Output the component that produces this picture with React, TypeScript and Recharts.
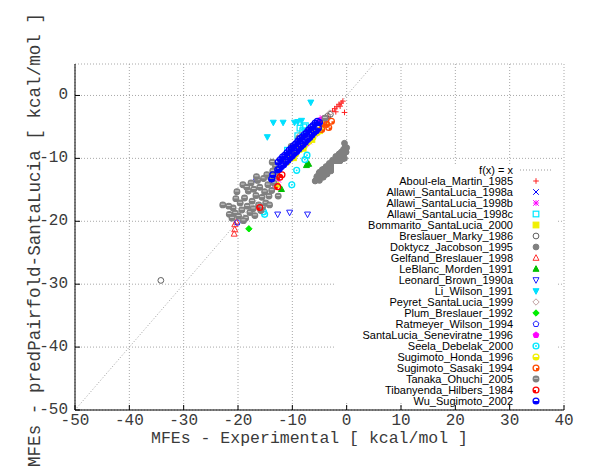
import {
  CartesianGrid,
  Legend,
  ReferenceLine,
  Scatter,
  ScatterChart,
  XAxis,
  YAxis
} from "recharts";

type Pt = [number, number];

const xTicks = [-50, -40, -30, -20, -10, 0, 10, 20, 30, 40];
const yTicks = [-50, -40, -30, -20, -10, 0];

const aboulEla: Pt[] = [[-4.6, -3.8], [-4.4, -4.5], [-3.4, -3.4], [-2.6, -2.5], [-2.2, -2.1], [-2.0, -2.6], [-1.8, -1.8], [-1.4, -1.4], [-1.2, -1.7], [-1.0, -1.2], [-0.7, -0.9], [-0.4, -2.7]];
const allawiA: Pt[] = [[-6.5, -5.3], [-8.1, -6.7], [-4.3, -3.9], [-10.3, -8.8]];
const allawiB: Pt[] = [[-4.4, -3.6], [-3.8, -4.0], [-5.9, -6.1], [-9.0, -8.3], [-12.6, -13.4], [-13.2, -14.5], [-6.9, -7.3]];
const allawiC: Pt[] = [[-10.9, -8.7], [-8.6, -5.2], [-8.1, -5.6], [-9.0, -6.4], [-7.6, -4.8], [-7.9, -5.0]];
const bommarito: Pt[] = [[-9.8, -9.9], [-8.0, -8.4], [-6.4, -7.0], [-5.0, -5.6]];
const breslauer: Pt[] = [[-34.2, -29.4], [-3.5, -3.3], [-3.0, -3.0]];
const doktycz: Pt[] = [
  [-0.4, -7.6], [-0.3, -8.2], [-0.2, -8.8], [-0.5, -9.3], [-0.9, -9.6], [-0.6, -8.6], [-1.0, -9.0],
  [0.0, -8.3], [-0.1, -9.0], [-0.4, -10.0],
  [-1.3, -9.9], [-1.6, -10.2], [-1.9, -10.0], [-2.2, -10.6], [-2.5, -10.9], [-2.3, -11.3], [-2.8, -11.1],
  [-3.1, -11.5], [-3.4, -11.2], [-3.6, -11.8], [-3.9, -12.0], [-4.2, -11.7], [-4.4, -12.3], [-4.7, -12.5],
  [-5.0, -12.2], [-4.9, -12.9], [-5.3, -13.2], [-5.6, -13.4], [-5.8, -13.6], [-1.2, -10.4], [-0.8, -10.1],
  [-1.8, -10.8], [-2.7, -11.6], [-3.3, -12.0], [-4.0, -12.6], [-5.5, -12.9],
  [-1.4, -9.3], [-2.0, -9.7], [-2.6, -10.3], [-3.2, -10.8], [-3.8, -11.3], [-4.5, -11.8], [-5.1, -12.4],
  [-1.6, -10.9], [-2.2, -11.5], [-2.9, -12.0], [-3.6, -12.5], [-4.3, -13.0], [-5.0, -13.5]
];
const gelfand: Pt[] = [[-20.6, -20.5], [-20.6, -21.3], [-20.7, -22.0], [-20.3, -20.1]];
const leBlanc: Pt[] = [[-7.4, -11.1], [-12.0, -14.9], [-7.0, -10.9]];
const leonard: Pt[] = [[-12.7, -18.9], [-10.5, -18.6], [-7.2, -18.9]];
const liWilson: Pt[] = [[-6.6, -1.1], [-13.5, -4.3], [-11.7, -4.3], [-9.6, -4.3], [-9.0, -4.2], [-8.3, -4.0], [-14.6, -6.6]];
const peyret: Pt[] = [[-3.1, -2.8], [-8.6, -6.3]];
const plum: Pt[] = [[-18.0, -21.2]];
const ratmeyer: Pt[] = [[-16.6, -13.4], [-20.1, -20.2]];
const santaLuciaSen: Pt[] = [[-4.9, -3.9], [-7.3, -7.6]];
const seela: Pt[] = [[-9.2, -11.9], [-10.1, -14.2], [-15.1, -18.9], [-7.7, -10.2], [-7.3, -9.5], [-15.3, -18.5]];
const sugimotoHonda: Pt[] = [
  [-11.0, -10.6], [-10.2, -10.0], [-9.4, -9.3], [-8.6, -8.6], [-7.8, -8.0], [-7.0, -7.3],
  [-6.2, -6.6], [-5.4, -5.9], [-4.6, -5.3], [-3.9, -4.5], [-12.9, -14.2], [-6.6, -5.4]
];
const sugimotoSasaki: Pt[] = [[-2.8, -4.1], [-3.7, -4.6], [-4.6, -5.4], [-3.3, -5.1], [-4.2, -4.4]];
const tanaka: Pt[] = [
  [-22.8, -17.4], [-21.6, -18.9], [-21.1, -19.5], [-20.9, -17.9], [-20.5, -18.7], [-20.2, -15.3],
  [-19.9, -19.2], [-19.6, -17.1], [-19.3, -18.2], [-19.1, -14.2], [-18.8, -16.3], [-18.6, -19.5],
  [-18.3, -17.6], [-18.1, -15.2], [-17.8, -18.6], [-17.6, -13.9], [-17.4, -16.8], [-17.1, -14.9],
  [-16.9, -19.1], [-16.7, -15.9], [-16.4, -13.5], [-16.2, -17.4], [-16.0, -14.6], [-15.8, -18.3],
  [-15.6, -16.2], [-15.3, -13.2], [-15.1, -15.3], [-14.9, -17.1], [-14.7, -12.6], [-14.5, -14.2],
  [-14.3, -16.0], [-14.0, -13.1], [-13.8, -15.1], [-13.6, -12.0], [-13.4, -13.9], [-13.1, -11.2],
  [-13.7, -10.6], [-12.9, -12.8], [-20.4, -16.4], [-19.0, -19.9], [-17.2, -18.0], [-15.5, -17.8],
  [-14.2, -17.4], [-16.6, -12.9], [-18.4, -14.6], [-21.7, -17.6], [-12.6, -16.0],
  [-10.2, -8.1], [-8.8, -6.8], [-7.0, -5.5], [-4.0, -3.6]
];
const tibanyenda: Pt[] = [[-16.0, -17.8], [-12.3, -13.0], [-12.7, -14.5], [-11.9, -12.6]];
const wuSugimoto: Pt[] = [
  [-12.6, -10.6], [-12.4, -11.7], [-12.2, -10.2], [-12.0, -11.3], [-11.8, -9.8], [-11.6, -11.0],
  [-11.4, -9.5], [-11.2, -10.6], [-11.0, -9.1], [-10.8, -10.3], [-10.6, -8.7], [-10.4, -9.9],
  [-10.2, -8.4], [-10.0, -9.6], [-9.8, -8.0], [-9.6, -9.2], [-9.4, -7.7], [-9.2, -8.9],
  [-9.0, -7.3], [-8.8, -8.5], [-8.6, -6.9], [-8.4, -8.1], [-8.2, -6.6], [-8.0, -7.8],
  [-7.8, -6.2], [-7.6, -7.4], [-7.4, -5.9], [-7.2, -7.0], [-7.0, -5.5], [-6.8, -6.7],
  [-6.6, -5.1], [-6.4, -6.3], [-6.2, -4.8], [-6.0, -5.9], [-5.8, -4.4], [-5.6, -5.6],
  [-5.4, -4.1], [-5.2, -5.2], [-5.0, -4.3], [-13.8, -13.3], [-12.7, -11.8], [-13.6, -12.6]
];

type Kind =
  | "plus" | "cross" | "star" | "box" | "boxF" | "circle" | "circleF" | "tri" | "triF"
  | "triDown" | "triDownF" | "diamond" | "diamondF" | "pent" | "pentF"
  | "ringDot" | "ringHalf" | "ringQuarter" | "ringBar" | "ringWedge";

const series: { name: string; data: Pt[]; color: string; kind: Kind }[] = [
  { name: "Aboul-ela_Martin_1985", data: aboulEla, color: "#ff2020", kind: "plus" },
  { name: "Allawi_SantaLucia_1998a", data: allawiA, color: "#0000ff", kind: "cross" },
  { name: "Allawi_SantaLucia_1998b", data: allawiB, color: "#ff00ff", kind: "star" },
  { name: "Allawi_SantaLucia_1998c", data: allawiC, color: "#00e8ff", kind: "box" },
  { name: "Bommarito_SantaLucia_2000", data: bommarito, color: "#f0f000", kind: "boxF" },
  { name: "Breslauer_Marky_1986", data: breslauer, color: "#606060", kind: "circle" },
  { name: "Doktycz_Jacobson_1995", data: doktycz, color: "#808080", kind: "circleF" },
  { name: "Gelfand_Breslauer_1998", data: gelfand, color: "#ff3030", kind: "tri" },
  { name: "LeBlanc_Morden_1991", data: leBlanc, color: "#00c000", kind: "triF" },
  { name: "Leonard_Brown_1990a", data: leonard, color: "#2020ff", kind: "triDown" },
  { name: "Li_Wilson_1991", data: liWilson, color: "#00e0ff", kind: "triDownF" },
  { name: "Peyret_SantaLucia_1999", data: peyret, color: "#c0a0a0", kind: "diamond" },
  { name: "Plum_Breslauer_1992", data: plum, color: "#00ee00", kind: "diamondF" },
  { name: "Ratmeyer_Wilson_1994", data: ratmeyer, color: "#2020ff", kind: "pent" },
  { name: "SantaLucia_Seneviratne_1996", data: santaLuciaSen, color: "#ff00ff", kind: "pentF" },
  { name: "Seela_Debelak_2000", data: seela, color: "#00e8ff", kind: "ringDot" },
  { name: "Sugimoto_Honda_1996", data: sugimotoHonda, color: "#f0f000", kind: "ringHalf" },
  { name: "Sugimoto_Sasaki_1994", data: sugimotoSasaki, color: "#ff4a00", kind: "ringQuarter" },
  { name: "Tanaka_Ohuchi_2005", data: tanaka, color: "#808080", kind: "ringBar" },
  { name: "Tibanyenda_Hilbers_1984", data: tibanyenda, color: "#ff0000", kind: "ringWedge" },
  { name: "Wu_Sugimoto_2002", data: wuSugimoto, color: "#0000ff", kind: "ringHalf" }
];

const toPts = (arr: Pt[]) => arr.map(([x, y]) => ({ x, y }));

function Marker({ kind, color, cx, cy }: { kind: Kind; color: string; cx: number; cy: number }) {
  const s = 2.8;
  const r = 2.9;
  const poly = (pts: number[][]) => pts.map((p) => `${cx + p[0]},${cy + p[1]}`).join(" ");
  switch (kind) {
    case "plus":
      return <path d={`M${cx - s} ${cy}H${cx + s}M${cx} ${cy - s}V${cy + s}`} stroke={color} />;
    case "cross":
      return <path d={`M${cx - s} ${cy - s}L${cx + s} ${cy + s}M${cx - s} ${cy + s}L${cx + s} ${cy - s}`} stroke={color} />;
    case "star":
      return (
        <path
          d={`M${cx - s} ${cy}H${cx + s}M${cx} ${cy - s}V${cy + s}M${cx - s} ${cy - s}L${cx + s} ${cy + s}M${cx - s} ${cy + s}L${cx + s} ${cy - s}`}
          stroke={color}
        />
      );
    case "box":
    case "boxF":
      return (
        <rect x={cx - s} y={cy - s} width={2 * s} height={2 * s} fill={kind === "boxF" ? color : "none"} stroke={color} strokeWidth={1.2} />
      );
    case "circle":
    case "circleF":
      return <circle cx={cx} cy={cy} r={r} fill={kind === "circleF" ? color : "none"} stroke={color} />;
    case "tri":
    case "triF":
      return <polygon points={poly([[0, -3.3], [-3, 2.3], [3, 2.3]])} fill={kind === "triF" ? color : "none"} stroke={color} />;
    case "triDown":
    case "triDownF":
      return <polygon points={poly([[0, 3.3], [-3, -2.3], [3, -2.3]])} fill={kind === "triDownF" ? color : "none"} stroke={color} />;
    case "diamond":
    case "diamondF":
      return <polygon points={poly([[0, -3.2], [3.2, 0], [0, 3.2], [-3.2, 0]])} fill={kind === "diamondF" ? color : "none"} stroke={color} />;
    case "pent":
    case "pentF":
      return (
        <polygon
          points={poly([[0, -3.1], [2.9, -0.9], [1.8, 2.5], [-1.8, 2.5], [-2.9, -0.9]])}
          fill={kind === "pentF" ? color : "none"}
          stroke={color}
        />
      );
    case "ringDot":
      return (
        <g>
          <circle cx={cx} cy={cy} r={r} fill="none" stroke={color} strokeWidth={1.4} />
          <circle cx={cx} cy={cy} r={0.9} fill={color} />
        </g>
      );
    case "ringHalf":
      return (
        <g>
          <circle cx={cx} cy={cy} r={r} fill="none" stroke={color} strokeWidth={1.3} />
          <path d={`M${cx - r} ${cy}A${r} ${r} 0 0 0 ${cx + r} ${cy}Z`} fill={color} />
        </g>
      );
    case "ringQuarter":
      return (
        <g>
          <circle cx={cx} cy={cy} r={r} fill="none" stroke={color} strokeWidth={1.3} />
          <path d={`M${cx} ${cy}L${cx + r} ${cy}A${r} ${r} 0 0 1 ${cx} ${cy + r}Z`} fill={color} />
        </g>
      );
    case "ringBar":
      return (
        <g>
          <circle cx={cx} cy={cy} r={r} fill={color} stroke={color} strokeWidth={1.1} />
          <rect x={cx - r + 1} y={cy - 1.2} width={2 * r - 2} height={0.9} fill="#d8d8d8" />
        </g>
      );
    case "ringWedge":
      return (
        <g>
          <circle cx={cx} cy={cy} r={r} fill="none" stroke={color} strokeWidth={1.3} />
          <path d={`M${cx} ${cy}L${cx - r} ${cy}A${r} ${r} 0 0 0 ${cx} ${cy + r}Z`} fill={color} />
        </g>
      );
  }
  return null;
}

const monoFont = "'Liberation Mono', 'DejaVu Sans Mono', monospace";
const textGray = "#3a3a3a";

function BottomTick(props: any) {
  const { x, y, payload } = props;
  return (
    <g>
      <line x1={x} x2={x} y1={y} y2={y - 5} stroke="#000" />
      <text x={x} y={y + 11} textAnchor="middle" dominantBaseline="central" fontFamily={monoFont} fontSize={16} fill={textGray}>
        {payload.value}
      </text>
    </g>
  );
}

function TopTick(props: any) {
  const { x, y } = props;
  return <line x1={x} x2={x} y1={y} y2={y + 5} stroke="#000" />;
}

function LeftTick(props: any) {
  const { x, y, payload } = props;
  return (
    <g>
      <line x1={x} x2={x + 5} y1={y} y2={y} stroke="#000" />
      <text x={x - 7} y={y} textAnchor="end" dominantBaseline="central" fontFamily={monoFont} fontSize={16} fill={textGray}>
        {payload.value}
      </text>
    </g>
  );
}

function RightTick(props: any) {
  const { x, y } = props;
  return <line x1={x} x2={x - 5} y1={y} y2={y} stroke="#000" />;
}

function XTitle(props: any) {
  const { viewBox } = props;
  return (
    <text
      x={viewBox.x + viewBox.width / 2 - 10}
      y={viewBox.y + 28}
      textAnchor="middle"
      dominantBaseline="central"
      fontFamily={monoFont}
      fontSize={16.5}
      fill={textGray}
    >
      MFEs - Experimental [ kcal/mol ]
    </text>
  );
}

function YTitle(props: any) {
  const { viewBox } = props;
  const cx = viewBox.x + 20;
  const cy = viewBox.y + viewBox.height / 2 + 3;
  return (
    <text
      x={cx}
      y={cy}
      transform={`rotate(-90 ${cx} ${cy})`}
      textAnchor="middle"
      dominantBaseline="central"
      fontFamily={monoFont}
      fontSize={17.6}
      fill={textGray}
    >
      MFEs - predPairfold-SantaLucia [ kcal/mol ]
    </text>
  );
}

function KeyBox() {
  const textX = 179;
  const markX = 202;
  return (
    <svg width={223} height={246} style={{ display: "block", overflow: "visible" }}>
      <rect x={0} y={0} width={223} height={239} fill="#fff" />
      <text x={textX} y={6} textAnchor="end" dominantBaseline="central" fontFamily="'Liberation Sans', Arial, sans-serif" fontSize={11} fill="#000">
        f(x) = x
      </text>
      <line x1={186} x2={218} y1={6} y2={6} stroke="#999" strokeDasharray="1 2" />
      {series.map((s, i) => (
        <g key={s.name}>
          <text
            x={textX}
            y={17 + 11 * i}
            textAnchor="end"
            dominantBaseline="central"
            fontFamily="'Liberation Sans', Arial, sans-serif"
            fontSize={11}
            fill="#000"
          >
            {s.name}
          </text>
          <Marker kind={s.kind} color={s.color} cx={markX} cy={17 + 11 * i} />
        </g>
      ))}
    </svg>
  );
}

export default function App() {
  return (
    <div style={{ position: "absolute", left: 0, top: 0, background: "#fff" }}>
      <ScatterChart width={600} height={475} margin={{ top: 64, right: 36, bottom: 25, left: 15 }}>
        <CartesianGrid stroke="#a8a8a8" strokeDasharray="1 2" />
        <ReferenceLine
          segment={[{ x: -50, y: -50 }, { x: 40, y: 40 }]}
          stroke="#a0a0a0"
          strokeDasharray="1 2"
          ifOverflow="hidden"
        />
        {series.map((s) => (
          <Scatter
            key={s.name}
            name={s.name}
            data={toPts(s.data)}
            isAnimationActive={false}
            shape={(p: any) => <Marker kind={s.kind} color={s.color} cx={p.cx} cy={p.cy} />}
          />
        ))}
        <XAxis
          type="number"
          dataKey="x"
          domain={[-50, 40]}
          ticks={xTicks}
          interval={0}
          allowDataOverflow
          height={40}
          tickSize={0}
          tickMargin={0}
          tickLine={false}
          axisLine={{ stroke: "#000" }}
          tick={<BottomTick />}
          label={<XTitle />}
        />
        <XAxis
          xAxisId="top"
          orientation="top"
          type="number"
          domain={[-50, 40]}
          ticks={xTicks}
          interval={0}
          allowDataOverflow
          height={0}
          tickSize={0}
          tickMargin={0}
          tickLine={false}
          axisLine={{ stroke: "#000" }}
          tick={<TopTick />}
        />
        <YAxis
          type="number"
          dataKey="y"
          domain={[-50, 5]}
          ticks={yTicks}
          interval={0}
          allowDataOverflow
          width={60}
          tickSize={0}
          tickMargin={0}
          tickLine={false}
          axisLine={{ stroke: "#000" }}
          tick={<LeftTick />}
          label={<YTitle />}
        />
        <YAxis
          yAxisId="right"
          orientation="right"
          type="number"
          domain={[-50, 5]}
          ticks={yTicks}
          interval={0}
          allowDataOverflow
          width={0}
          tickSize={0}
          tickMargin={0}
          tickLine={false}
          axisLine={{ stroke: "#000" }}
          tick={<RightTick />}
        />
        <Legend
          layout="horizontal"
          verticalAlign="middle"
          align="center"
          content={() => <KeyBox />}
          wrapperStyle={{ left: 334, top: 164, width: 223, height: 246 }}
        />
      </ScatterChart>
    </div>
  );
}
